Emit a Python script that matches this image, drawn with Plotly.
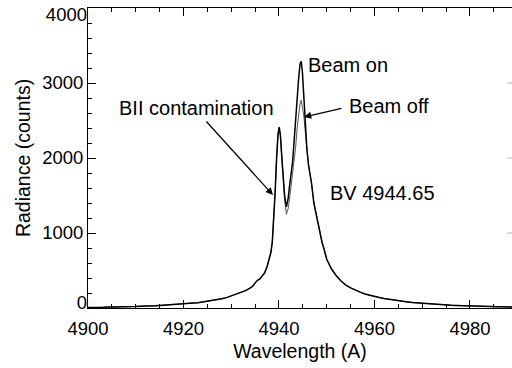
import plotly.graph_objects as go

# Wavelength grid (Angstrom)
wavelength = [
    4900, 4901, 4902, 4903, 4904, 4905, 4906, 4907, 4908, 4909,
    4910, 4911, 4912, 4913, 4914, 4915, 4916, 4917, 4918, 4919,
    4920, 4921, 4922, 4923, 4924, 4925, 4926, 4927, 4928, 4929,
    4930, 4931, 4932, 4933, 4934, 4934.5, 4935, 4935.5, 4936, 4936.5,
    4937, 4937.5, 4938, 4938.3, 4938.6, 4938.9, 4939.2, 4939.5, 4939.8, 4940.05,
    4940.3, 4940.6, 4940.9, 4941.2, 4941.55, 4941.9, 4942.2, 4942.5, 4942.85, 4943.2,
    4943.5, 4943.8, 4944.1, 4944.4, 4944.65, 4944.9, 4945.2, 4945.5, 4945.85, 4946.2,
    4946.8, 4947.3, 4947.9, 4948.5, 4949.0, 4949.5, 4950, 4951, 4952, 4953,
    4954, 4955, 4956, 4957, 4958, 4959, 4960, 4961, 4962, 4963,
    4964, 4965, 4966, 4967, 4968, 4969, 4970, 4971, 4972, 4973,
    4974, 4975, 4976, 4977, 4978, 4979, 4980, 4981, 4982, 4983,
    4984, 4985, 4986, 4987, 4988, 4989,
]

beam_on = [
    6, 4, 9, 8, 12, 10, 15, 17, 16, 21,
    20, 25, 24, 30, 29, 34, 38, 36, 45, 50,
    54, 58, 66, 70, 80, 86, 98, 108, 122, 138,
    160, 178, 200, 232, 268, 290, 335, 370, 388, 430,
    470, 550, 650, 740, 880, 1180, 1550, 2000, 2320, 2410,
    2300, 2000, 1720, 1480, 1350, 1450, 1620, 1780, 1950, 2250,
    2550, 2800, 3050, 3250, 3290, 3150, 2800, 2450, 2110, 1900,
    1670, 1400, 1220, 1020, 880, 770, 650, 520, 430, 360,
    305, 268, 235, 212, 186, 168, 152, 140, 126, 115,
    104, 95, 87, 80, 72, 67, 60, 56, 51, 48,
    44, 42, 37, 35, 32, 31, 27, 26, 23, 22,
    20, 19, 17, 16, 14, 14,
]

beam_off = [
    6, 4, 9, 8, 12, 10, 15, 17, 16, 21,
    20, 25, 24, 30, 29, 34, 38, 36, 45, 50,
    54, 58, 66, 70, 80, 86, 98, 108, 122, 138,
    160, 178, 200, 232, 268, 290, 335, 370, 388, 430,
    470, 550, 650, 740, 880, 1180, 1550, 2000, 2320, 2410,
    2300, 2000, 1700, 1420, 1250, 1320, 1450, 1600, 1780, 1950,
    2150, 2400, 2600, 2720, 2770, 2680, 2560, 2350, 2100, 1900,
    1670, 1400, 1220, 1020, 880, 770, 650, 520, 430, 360,
    305, 268, 235, 212, 186, 168, 152, 140, 126, 115,
    104, 95, 87, 80, 72, 67, 60, 56, 51, 48,
    44, 42, 37, 35, 32, 31, 27, 26, 23, 22,
    20, 19, 17, 16, 14, 14,
]

x_ticks = [4900, 4920, 4940, 4960, 4980]
y_ticks = [0, 1000, 2000, 3000, 4000]
x_minor_step = 5
y_minor_step = 200

X_RANGE = [4900, 4988.8]
Y_RANGE = [0, 4000]
FONT = "Liberation Sans, Arial, Helvetica, sans-serif"
TICK_COLOR = "black"

fig = go.Figure()
fig.add_trace(go.Scatter(x=wavelength, y=beam_off, mode="lines",
                         line=dict(color="#555555", width=1), showlegend=False))
fig.add_trace(go.Scatter(x=wavelength, y=beam_on, mode="lines",
                         line=dict(color="black", width=1.5), showlegend=False))

fig.update_layout(
    template="simple_white",
    width=512, height=368,
    margin=dict(l=88, r=0, t=8, b=60, autoexpand=False),
    paper_bgcolor="white", plot_bgcolor="white",
    font=dict(family=FONT, color="black", size=18),
    showlegend=False,
)

fig.update_xaxes(
    range=X_RANGE, tickvals=x_ticks, ticktext=[str(v) for v in x_ticks],
    automargin=False,
    showgrid=False, zeroline=False, showline=True, linecolor="black", linewidth=1,
    mirror="ticks", ticks="inside", ticklen=8, tickcolor=TICK_COLOR, tickwidth=1,
    minor=dict(ticks="inside", ticklen=4, dtick=x_minor_step, tick0=x_ticks[0],
               tickcolor=TICK_COLOR, tickwidth=1, showgrid=False),
    ticklabelstandoff=4, ticklabeloverflow="allow",
    tickfont=dict(size=18.5), title=dict(text="Wavelength (A)", font=dict(size=19.5), standoff=6),
)

# main y axis: labels 1000-3000 at their ticks
fig.update_yaxes(
    range=Y_RANGE, tickvals=y_ticks, ticktext=["", "1000", "2000", "3000", ""],
    automargin=False, mirror=False,
    showgrid=False, zeroline=False, showline=True, linecolor="black", linewidth=1,
    ticks="inside", ticklen=8, tickcolor=TICK_COLOR, tickwidth=1,
    minor=dict(ticks="inside", ticklen=4, dtick=y_minor_step, tick0=y_ticks[0],
               tickcolor=TICK_COLOR, tickwidth=1, showgrid=False),
    ticklabeloverflow="allow",
    tickfont=dict(size=18.5), title=dict(text="Radiance (counts)", font=dict(size=19.5), standoff=6),
)
# overlay axes carrying the end labels, nudged inward as in the original
fig.update_layout(
    yaxis2=dict(overlaying="y", anchor="x", side="left", range=Y_RANGE,
                tickvals=[y_ticks[-1]], ticktext=[str(y_ticks[-1])], ticklabelshift=7,
                showline=False, ticks="", showgrid=False, zeroline=False, automargin=False,
                mirror=False, ticklabeloverflow="allow", tickfont=dict(size=18.5)),
    yaxis3=dict(overlaying="y", anchor="x", side="left", range=Y_RANGE,
                tickvals=[y_ticks[0]], ticktext=[str(y_ticks[0])], ticklabelshift=-5,
                showline=False, ticks="", showgrid=False, zeroline=False, automargin=False,
                mirror=False, ticklabeloverflow="allow", tickfont=dict(size=18.5)),
)
fig.add_trace(go.Scatter(x=[X_RANGE[0]], y=[Y_RANGE[0]], yaxis="y2", mode="markers",
                         marker=dict(opacity=0), hoverinfo="skip", showlegend=False))
fig.add_trace(go.Scatter(x=[X_RANGE[0]], y=[Y_RANGE[0]], yaxis="y3", mode="markers",
                         marker=dict(opacity=0), hoverinfo="skip", showlegend=False))

# right-side tick marks (the right axis lies just beyond the picture edge)
for yv in y_ticks[1:-1]:
    fig.add_shape(type="line", xref="paper", yref="y", x0=0.989, x1=1.0, y0=yv, y1=yv,
                  line=dict(color=TICK_COLOR, width=1))

labels = [
    ("Beam on", 4945.7, 3240),
    ("BII contamination", 4906.0, 2667),
    ("Beam off", 4954.3, 2693),
    ("BV 4944.65", 4950.3, 1533),
]
for text, xv, yv in labels:
    fig.add_annotation(x=xv, y=yv, text=text, showarrow=False, xanchor="left",
                       yanchor="middle", font=dict(size=20, family=FONT, color="black"))

arrows = [
    (4938.74, 1507, 4924.5, 2507),
    (4945.24, 2547, 4953.4, 2667),
]
for hx, hy, tx, ty in arrows:
    fig.add_annotation(x=hx, y=hy, ax=tx, ay=ty, axref="x", ayref="y", text="",
                       showarrow=True, arrowhead=2, arrowsize=1.2, arrowwidth=1.2,
                       arrowcolor="black")

fig.write_html("out.html", config={"displayModeBar": False},
               post_script="document.body.style.margin='0';")
